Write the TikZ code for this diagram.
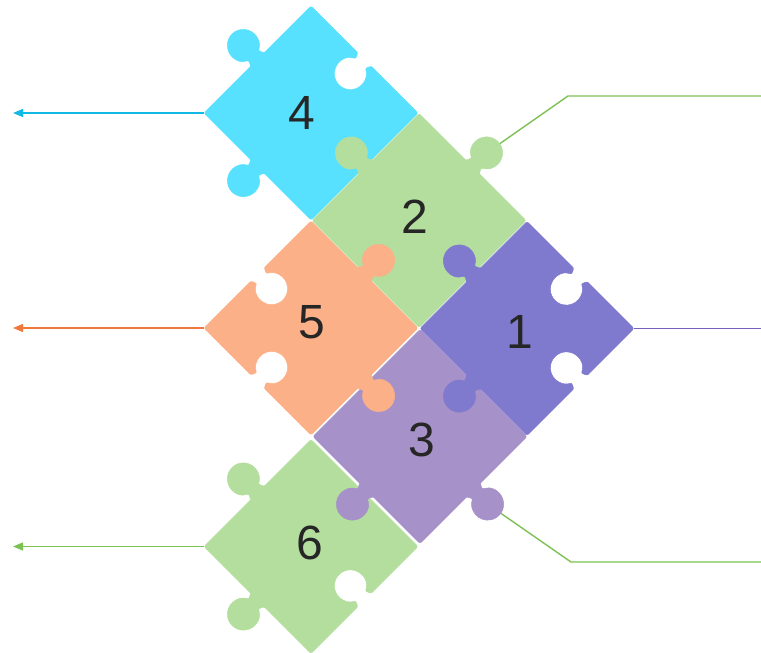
\documentclass[tikz,border=0pt]{standalone}
\usepackage{fontspec}
\setmainfont{Liberation Sans}
\usetikzlibrary{arrows.meta}
\definecolor{pcyan}{RGB}{88,225,255}
\definecolor{pgreen}{RGB}{180,222,158}
\definecolor{pviolet}{RGB}{128,122,207}
\definecolor{porange}{RGB}{252,176,135}
\definecolor{plilac}{RGB}{166,146,201}
\definecolor{lcyan}{RGB}{18,185,228}
\definecolor{lorange}{RGB}{240,120,60}
\definecolor{lgreen}{RGB}{124,193,84}
\definecolor{lviolet}{RGB}{120,96,190}
\definecolor{txt}{RGB}{38,38,38}
\def\ha{75.66}
% tab (knob outward) on local edge #1 (0 top,1 right,2 bottom,3 left)
\newcommand\pzTab[1]{-- ([rotate=-90*#1]-12.5,\ha) .. controls ([rotate=-90*#1]-9,\ha) and ([rotate=-90*#1]-6.72,\ha+5.18) .. ([rotate=-90*#1]-9.18,\ha+6.9) arc[start angle={235-90*#1}, end angle={-55-90*#1}, radius=16] .. controls ([rotate=-90*#1]6.72,\ha+5.18) and ([rotate=-90*#1]9,\ha) .. ([rotate=-90*#1]12.5,\ha)}
% blank (hole inward)
\newcommand\pzBlank[1]{-- ([rotate=-90*#1]-12.5,\ha) .. controls ([rotate=-90*#1]-9,\ha) and ([rotate=-90*#1]-6.72,\ha-5.18) .. ([rotate=-90*#1]-9.18,\ha-6.9) arc[start angle={125-90*#1}, end angle={415-90*#1}, radius=16] .. controls ([rotate=-90*#1]6.72,\ha-5.18) and ([rotate=-90*#1]9,\ha) .. ([rotate=-90*#1]12.5,\ha)}
% straight edge (a neighbour's tab covers the hole)
\newcommand\pzFlat[1]{}
\newcommand\puzzlepiece[7]{\filldraw[#7, line width=0.5pt, shift={(#1,-#2)}, rotate=45, rounded corners=2pt] (-\ha,\ha) #3{0} -- (\ha,\ha) #4{1} -- (\ha,-\ha) #5{2} -- (-\ha,-\ha) #6{3} -- cycle;}
\begin{document}
\begin{tikzpicture}[x=1pt,y=1pt,
  lbl/.style={font=\fontsize{48}{48}\selectfont, text=txt, inner sep=0pt},
  lead/.style={line width=1.4pt},
  tip/.style={-{Triangle[length=10pt,width=8pt]}}]
\useasboundingbox (0,0) rectangle (761,-653);
% connector coordinates
\coordinate (v4) at (204,-113);   \coordinate (e4) at (13,-113);
\coordinate (v5) at (204,-328);   \coordinate (e5) at (13,-328);
\coordinate (v6) at (204,-546.5); \coordinate (e6) at (13,-546.5);
\coordinate (v1) at (634,-328.5); \coordinate (e1) at (761,-328.5);
\coordinate (k2) at (486.6,-152.9); \coordinate (b2) at (568,-96); \coordinate (e2) at (761,-96);
\coordinate (k3) at (487.6,-504.1); \coordinate (b3) at (571,-562); \coordinate (e3) at (761,-562);
\draw[lead, lcyan, tip] (v4) -- (e4);
\draw[lead, lorange, tip] (v5) -- (e5);
\draw[lead, lgreen, tip] (v6) -- (e6);
\draw[lead, lviolet] (v1) -- (e1);
\draw[lead, lgreen] (k2) -- (b2) -- (e2);
\draw[lead, lgreen] (k3) -- (b3) -- (e3);
% pieces: {cx}{cy}{UL}{UR}{LR}{LL}{colour}; drawn so each tab lies over its neighbour
\puzzlepiece{311}{113}{\pzTab}{\pzBlank}{\pzFlat}{\pzTab}{pcyan}
\puzzlepiece{311}{546.5}{\pzTab}{\pzFlat}{\pzBlank}{\pzTab}{pgreen}
\puzzlepiece{419}{220.5}{\pzTab}{\pzTab}{\pzFlat}{\pzFlat}{pgreen}
\puzzlepiece{420}{436.5}{\pzFlat}{\pzFlat}{\pzTab}{\pzTab}{plilac}
\puzzlepiece{311}{328}{\pzBlank}{\pzTab}{\pzTab}{\pzBlank}{porange}
\puzzlepiece{527}{328.5}{\pzTab}{\pzBlank}{\pzBlank}{\pzTab}{pviolet}
% labels
\node[lbl] (n4) at (302,-113) {4};
\node[lbl] (n2) at (415,-217) {2};
\node[lbl] (n1) at (520,-332) {1};
\node[lbl] (n5) at (311.5,-322.5) {5};
\node[lbl] (n3) at (422,-440) {3};
\node[lbl] (n6) at (309.5,-543) {6};
\end{tikzpicture}
\end{document}
